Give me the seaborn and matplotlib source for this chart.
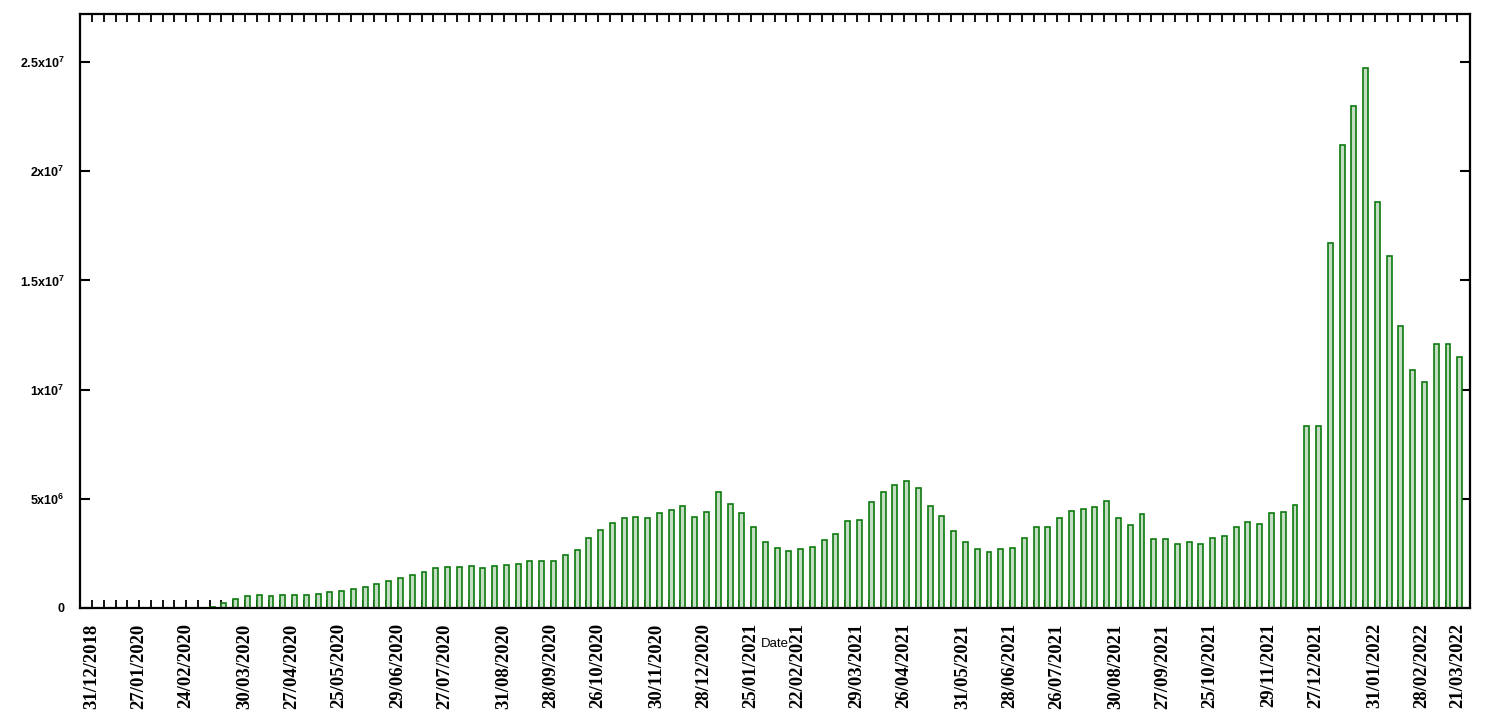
import numpy as np
import pandas as pd
import matplotlib
matplotlib.use("Agg")
import matplotlib.pyplot as plt
import seaborn as sns

# weekly values (millions)
values_m = [
    0, 0, 0, 0, 0, 0, 0, 0, 0, 0,
    0.06, 0.22, 0.41, 0.54, 0.58, 0.54, 0.58, 0.58, 0.58, 0.63,
    0.72, 0.76, 0.86, 0.95, 1.09, 1.22, 1.36, 1.50, 1.63, 1.82,
    1.86, 1.86, 1.91, 1.82, 1.91, 1.96, 2.00, 2.14, 2.14, 2.14,
    2.41, 2.64, 3.19, 3.57, 3.89, 4.12, 4.17, 4.12, 4.35, 4.49,
    4.67, 4.17, 4.40, 5.31, 4.76, 4.35, 3.71, 3.02, 2.75, 2.60,
    2.69, 2.79, 3.11, 3.37, 3.98, 4.03, 4.85, 5.31, 5.63, 5.80,
    5.48, 4.67, 4.21, 3.53, 3.02, 2.70, 2.55, 2.70, 2.73, 3.21,
    3.69, 3.69, 4.12, 4.46, 4.53, 4.62, 4.90, 4.12, 3.79, 4.30,
    3.15, 3.15, 2.93, 3.01, 2.93, 3.19, 3.30, 3.71, 3.92, 3.85,
    4.34, 4.40, 4.70, 8.33, 8.33, 16.70, 21.18, 22.97, 24.75, 18.61,
    16.11, 12.91, 10.88, 10.33, 12.08, 12.08, 11.49,
]

first_week_label = "31/12/2018"
first_week_start = "2019-12-30"

tick_labels = [
    "31/12/2018", "27/01/2020", "24/02/2020", "30/03/2020", "27/04/2020",
    "25/05/2020", "29/06/2020", "27/07/2020", "31/08/2020", "28/09/2020",
    "26/10/2020", "30/11/2020", "28/12/2020", "25/01/2021", "22/02/2021",
    "29/03/2021", "26/04/2021", "31/05/2021", "28/06/2021", "26/07/2021",
    "30/08/2021", "27/09/2021", "25/10/2021", "29/11/2021", "27/12/2021",
    "31/01/2022", "28/02/2022", "21/03/2022",
]

ytick_values = [0, 5e6, 1e7, 1.5e7, 2e7, 2.5e7]
ytick_labels = ["0", "5x10$^6$", "1x10$^7$", "1.5x10$^7$", "2x10$^7$", "2.5x10$^7$"]

weeks = pd.date_range(first_week_start, periods=len(values_m), freq="7D").strftime("%d/%m/%Y").tolist()
weeks[0] = first_week_label
df = pd.DataFrame({"Date": weeks, "Value": np.array(values_m) * 1e6})

sns.set_style("white")
plt.rcParams["font.family"] = ["Liberation Sans", "DejaVu Sans"]
plt.rcParams["text.color"] = "black"
plt.rcParams["xtick.color"] = "black"
plt.rcParams["ytick.color"] = "black"
plt.rcParams["mathtext.default"] = "regular"

fig = plt.figure(figsize=(15.12, 7.2), dpi=100)
ax = fig.add_axes([80 / 1512, 1 - 608 / 720, (1470 - 80) / 1512, (608 - 14) / 720])

sns.barplot(data=df, x="Date", y="Value", ax=ax, width=0.42,
            color="#c4dbc4", edgecolor="#0d7a0d", linewidth=1.2,
            saturation=1, errorbar=None)

n = len(weeks)
ax.set_xlim(-1.23, n - 1 + 0.87)
ax.set_ylim(0, 2.72e7)

off = -0.21
ax.set_xticks([i + off for i in range(n)], minor=True)
major_pos = [weeks.index(lbl) + off for lbl in tick_labels]
ax.set_xticks(major_pos)
ax.set_xticklabels(tick_labels, rotation=90, fontsize=13.5, fontweight="bold",
                   family=["Liberation Serif", "DejaVu Serif"])
ax.tick_params(axis="x", which="both", direction="in", length=6, width=1.3,
               top=True, bottom=True, pad=11)
ax.set_yticks(ytick_values)
ax.set_yticklabels(ytick_labels, fontsize=9, fontweight="bold")
ax.tick_params(axis="y", which="major", direction="in", length=7, width=1.5,
               left=True, right=True, pad=11)

for sp in ax.spines.values():
    sp.set_visible(True)
    sp.set_color("black")
    sp.set_linewidth(1.6)

ax.set_xlabel("")
ax.set_ylabel("")
ax.text(0.5, -0.06, "Date", transform=ax.transAxes, ha="center", va="center", fontsize=9.5)

fig.savefig("out.png", dpi=100)
